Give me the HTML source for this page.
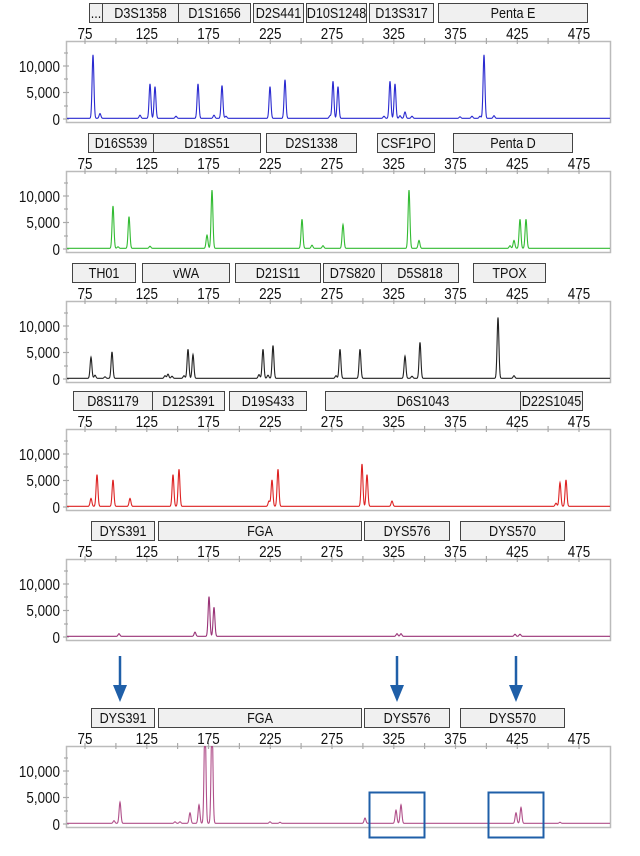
<!DOCTYPE html>
<html><head><meta charset="utf-8"><style>
html,body{margin:0;padding:0;background:#fff;}
svg{display:block;font-family:"Liberation Sans Narrow","Liberation Sans",sans-serif;}
svg text{transform-box:fill-box;transform-origin:center;transform:scaleX(.84);}
.lb rect{fill:#f0f0f0;stroke:#444;stroke-width:1;}
.lb text{font-size:15px;text-anchor:middle;fill:#111;}
.tk text{font-size:16px;text-anchor:middle;fill:#111;}
.yl text{font-size:16px;text-anchor:end;fill:#111;transform-origin:right center;}
</style></head><body>
<svg id="s" width="640" height="856" viewBox="0 0 640 856" xmlns="http://www.w3.org/2000/svg">
<defs>
<g id="ax">
<rect x="66.5" y="38.5" width="544" height="81" fill="#fff" stroke="#bbb" stroke-width="1.5"/>
<g stroke="#aaa" stroke-width="1.2">
<line x1="85" y1="35" x2="85" y2="41"/><line x1="115.9" y1="35" x2="115.9" y2="41"/><line x1="146.8" y1="35" x2="146.8" y2="41"/><line x1="177.6" y1="35" x2="177.6" y2="41"/><line x1="208.5" y1="35" x2="208.5" y2="41"/><line x1="239.4" y1="35" x2="239.4" y2="41"/><line x1="270.3" y1="35" x2="270.3" y2="41"/><line x1="301.1" y1="35" x2="301.1" y2="41"/><line x1="332" y1="35" x2="332" y2="41"/><line x1="362.9" y1="35" x2="362.9" y2="41"/><line x1="393.8" y1="35" x2="393.8" y2="41"/><line x1="424.6" y1="35" x2="424.6" y2="41"/><line x1="455.5" y1="35" x2="455.5" y2="41"/><line x1="486.4" y1="35" x2="486.4" y2="41"/><line x1="517.3" y1="35" x2="517.3" y2="41"/><line x1="548.1" y1="35" x2="548.1" y2="41"/><line x1="579" y1="35" x2="579" y2="41"/>
<line x1="63" y1="63" x2="69" y2="63"/><line x1="63" y1="89.5" x2="69" y2="89.5"/><line x1="63" y1="116" x2="69" y2="116"/><line x1="64" y1="50" x2="68" y2="50"/><line x1="64" y1="76" x2="68" y2="76"/><line x1="64" y1="103" x2="68" y2="103"/>
</g>
</g>
</defs>
<g id="panels"></g>
<g class="tk" transform="translate(0,3)"><text x="85" y="36">75</text><text x="146.8" y="36">125</text><text x="208.5" y="36">175</text><text x="270.3" y="36">225</text><text x="332" y="36">275</text><text x="393.8" y="36">325</text><text x="455.5" y="36">375</text><text x="517.3" y="36">425</text><text x="579" y="36">475</text></g>
<g class="tk" transform="translate(0,133)"><text x="85" y="36">75</text><text x="146.8" y="36">125</text><text x="208.5" y="36">175</text><text x="270.3" y="36">225</text><text x="332" y="36">275</text><text x="393.8" y="36">325</text><text x="455.5" y="36">375</text><text x="517.3" y="36">425</text><text x="579" y="36">475</text></g>
<g class="tk" transform="translate(0,263)"><text x="85" y="36">75</text><text x="146.8" y="36">125</text><text x="208.5" y="36">175</text><text x="270.3" y="36">225</text><text x="332" y="36">275</text><text x="393.8" y="36">325</text><text x="455.5" y="36">375</text><text x="517.3" y="36">425</text><text x="579" y="36">475</text></g>
<g class="tk" transform="translate(0,391)"><text x="85" y="36">75</text><text x="146.8" y="36">125</text><text x="208.5" y="36">175</text><text x="270.3" y="36">225</text><text x="332" y="36">275</text><text x="393.8" y="36">325</text><text x="455.5" y="36">375</text><text x="517.3" y="36">425</text><text x="579" y="36">475</text></g>
<g class="tk" transform="translate(0,521)"><text x="85" y="36">75</text><text x="146.8" y="36">125</text><text x="208.5" y="36">175</text><text x="270.3" y="36">225</text><text x="332" y="36">275</text><text x="393.8" y="36">325</text><text x="455.5" y="36">375</text><text x="517.3" y="36">425</text><text x="579" y="36">475</text></g>
<g class="tk" transform="translate(0,708)"><text x="85" y="36">75</text><text x="146.8" y="36">125</text><text x="208.5" y="36">175</text><text x="270.3" y="36">225</text><text x="332" y="36">275</text><text x="393.8" y="36">325</text><text x="455.5" y="36">375</text><text x="517.3" y="36">425</text><text x="579" y="36">475</text></g>

<g class="yl" transform="translate(0,3)"><text x="60" y="69">10,000</text><text x="60" y="95">5,000</text><text x="60" y="122">0</text></g>
<g class="yl" transform="translate(0,133)"><text x="60" y="69">10,000</text><text x="60" y="95">5,000</text><text x="60" y="122">0</text></g>
<g class="yl" transform="translate(0,263)"><text x="60" y="69">10,000</text><text x="60" y="95">5,000</text><text x="60" y="122">0</text></g>
<g class="yl" transform="translate(0,391)"><text x="60" y="69">10,000</text><text x="60" y="95">5,000</text><text x="60" y="122">0</text></g>
<g class="yl" transform="translate(0,521)"><text x="60" y="69">10,000</text><text x="60" y="95">5,000</text><text x="60" y="122">0</text></g>
<g class="yl" transform="translate(0,708)"><text x="60" y="69">10,000</text><text x="60" y="95">5,000</text><text x="60" y="122">0</text></g>

<g class="lb" transform="translate(0,3)">
<rect x="89.5" y="0.5" width="13" height="19"/><text x="96" y="15">...</text>
<rect x="102.5" y="0.5" width="76" height="19"/><text x="140.5" y="15">D3S1358</text>
<rect x="178.5" y="0.5" width="72" height="19"/><text x="214.5" y="15">D1S1656</text>
<rect x="253.5" y="0.5" width="50" height="19"/><text x="278.5" y="15">D2S441</text>
<rect x="306.5" y="0.5" width="60" height="19"/><text x="336.5" y="15">D10S1248</text>
<rect x="369.5" y="0.5" width="64" height="19"/><text x="401.5" y="15">D13S317</text>
<rect x="438.5" y="0.5" width="149" height="19"/><text x="513" y="15">Penta E</text>
</g>
<g class="lb" transform="translate(0,133)">
<rect x="88.5" y="0.5" width="65" height="19"/><text x="121" y="15">D16S539</text>
<rect x="153.5" y="0.5" width="107" height="19"/><text x="207" y="15">D18S51</text>
<rect x="266.5" y="0.5" width="90" height="19"/><text x="311.5" y="15">D2S1338</text>
<rect x="377.5" y="0.5" width="57" height="19"/><text x="406" y="15">CSF1PO</text>
<rect x="453.5" y="0.5" width="119" height="19"/><text x="513" y="15">Penta D</text>
</g>
<g class="lb" transform="translate(0,263)">
<rect x="72.5" y="0.5" width="63" height="19"/><text x="104" y="15">TH01</text>
<rect x="142.5" y="0.5" width="87" height="19"/><text x="186" y="15">vWA</text>
<rect x="235.5" y="0.5" width="85" height="19"/><text x="278" y="15">D21S11</text>
<rect x="323.5" y="0.5" width="58" height="19"/><text x="352.5" y="15">D7S820</text>
<rect x="381.5" y="0.5" width="77" height="19"/><text x="420" y="15">D5S818</text>
<rect x="473.5" y="0.5" width="72" height="19"/><text x="509.5" y="15">TPOX</text>
</g>
<g class="lb" transform="translate(0,391)">
<rect x="73.5" y="0.5" width="79" height="19"/><text x="113" y="15">D8S1179</text>
<rect x="152.5" y="0.5" width="72" height="19"/><text x="188.5" y="15">D12S391</text>
<rect x="229.5" y="0.5" width="77" height="19"/><text x="268" y="15">D19S433</text>
<rect x="325.5" y="0.5" width="195" height="19"/><text x="423" y="15">D6S1043</text>
<rect x="520.5" y="0.5" width="62" height="19"/><text x="551.5" y="15">D22S1045</text>
</g>
<g class="lb" transform="translate(0,521)">
<rect x="91.5" y="0.5" width="63" height="19"/><text x="123" y="15">DYS391</text>
<rect x="158.5" y="0.5" width="203" height="19"/><text x="260" y="15">FGA</text>
<rect x="364.5" y="0.5" width="85" height="19"/><text x="407" y="15">DYS576</text>
<rect x="460.5" y="0.5" width="104" height="19"/><text x="512.5" y="15">DYS570</text>
</g>
<g class="lb" transform="translate(0,708)">
<rect x="91.5" y="0.5" width="63" height="19"/><text x="123" y="15">DYS391</text>
<rect x="158.5" y="0.5" width="203" height="19"/><text x="260" y="15">FGA</text>
<rect x="364.5" y="0.5" width="85" height="19"/><text x="407" y="15">DYS576</text>
<rect x="460.5" y="0.5" width="104" height="19"/><text x="512.5" y="15">DYS570</text>
</g>
<g stroke="#1f5fa8" stroke-width="2.5" fill="#1f5fa8">
<line x1="120" y1="656" x2="120" y2="688"/><polygon points="113,685 127,685 120,702" stroke="none"/>
<line x1="397" y1="656" x2="397" y2="688"/><polygon points="390,685 404,685 397,702" stroke="none"/>
<line x1="516" y1="656" x2="516" y2="688"/><polygon points="509,685 523,685 516,702" stroke="none"/>
</g>
<g fill="none" stroke="#1f5fa8" stroke-width="2">
<rect x="369.5" y="792.5" width="55" height="45"/>
<rect x="488.5" y="792.5" width="55" height="45"/>
</g>
</svg>
<script>
var P=[
[3,'#2a2ad0',[[93,12],[100,.9],[140,.6],[150,6.5],[155,6],[176,.4],[198,6.5],[214,.6],[222,6.2],[226,.4],[270,6],[285,7.3],[330,.5],[333,7],[338,6],[384,.4],[390,7],[395,6.5],[400,.5],[405,1.2],[412,.4],[460,.3],[472,.4],[480,.4],[484,12],[494,.5]]],
[133,'#33bb33',[[113,8],[118,.3],[129,6],[150,.4],[207,2.5],[212,11],[302,5.5],[312,.6],[323,.5],[343,4.5],[409,11],[419,1.5],[510,.5],[514,1.5],[520,5.5],[526,5.5]]],
[263,'#222222',[[91,4],[95,.6],[105,.3],[112,5],[165,.5],[168,.8],[172,.4],[184,.5],[188,5.5],[193,4.5],[259,.7],[263,5.5],[268,.6],[273,6.2],[336,.5],[340,5.5],[360,5.5],[405,4.2],[412,.4],[420,6.8],[498,11.5],[514,.5]]],
[391,'#dd2222',[[91,1.5],[97,6],[113,5],[130,1.5],[173,6],[179,7],[269,1],[272,5],[278,7],[362,8],[367,6],[392,1],[556,.6],[560,4.5],[566,5]]],
[521,'#993377',[[119,.5],[195,.8],[209,7.5],[214,5.5],[397,.5],[401,.5],[515,.4],[520,.4]]],
[708,'#b0508a',[[114,.5],[120,4],[175,.3],[180,.3],[190,2],[199,3.5],[205,20],[212,20],[270,.3],[280,.2],[365,1],[396,2.5],[401,3.5],[516,2],[521,3],[560,.2]]]
];
var g=document.getElementById('panels'),ns='http://www.w3.org/2000/svg';
P.forEach(function(p){
 var gg=document.createElementNS(ns,'g');gg.setAttribute('transform','translate(0,'+p[0]+')');
 var u=document.createElementNS(ns,'use');u.setAttribute('href','#ax');gg.appendChild(u);
 var d='';
 for(var x=67;x<=610;x+=0.25){var v=0.12;p[2].forEach(function(k){var dx=(x-k[0])/0.9;v+=k[1]*Math.exp(-dx*dx/2);});
  var y=116-v*5.3;if(y<38.5)y=38.5;d+=(d?'L':'M')+x.toFixed(2)+' '+y.toFixed(2);}
 var path=document.createElementNS(ns,'path');path.setAttribute('d',d);path.setAttribute('fill','none');path.setAttribute('stroke',p[1]);path.setAttribute('stroke-width','1.1');
 gg.appendChild(path);g.appendChild(gg);
});
</script>
</body></html>
